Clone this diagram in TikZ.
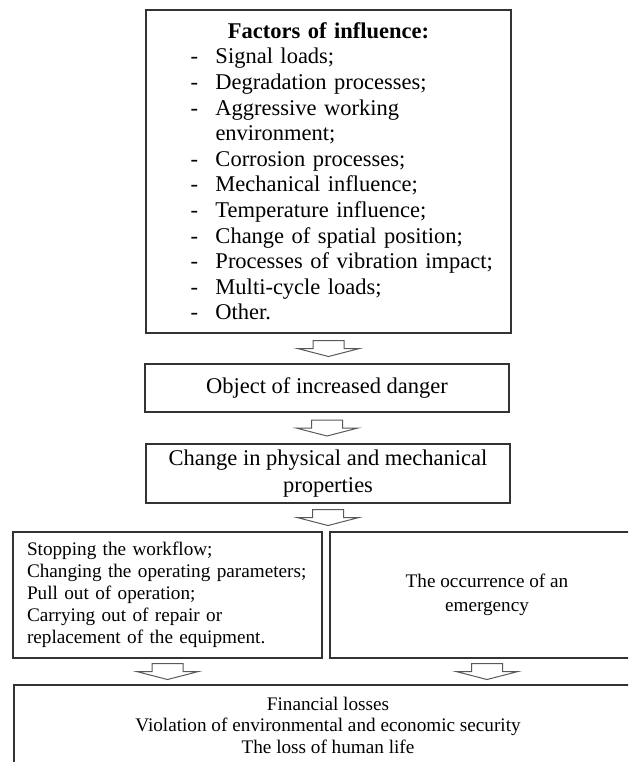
\documentclass[tikz,border=0pt]{standalone}
\usepackage{fontspec}
\setmainfont{Liberation Serif}
\usepackage{tikz}
\usetikzlibrary{calc}
\definecolor{boxline}{gray}{0.2}
\definecolor{arrowline}{gray}{0.35}
\newcommand{\bigfont}{\fontsize{11.25pt}{12.8pt}\selectfont}
\newcommand{\factor}[1]{\hspace*{16pt}\makebox[12.5pt][l]{-}#1}

\begin{document}
\begin{tikzpicture}[x=1pt,y=-1pt,
	box/.style={draw=boxline,line width=.75pt,inner sep=2pt},
	flowarrow/.style={draw=arrowline,line width=.5pt}]
	\path[use as bounding box] (0,0) rectangle (314,381);
	\clip (0,0) rectangle (314,381);
	\node[box,font=\bigfont,text width=170pt,minimum width=182.5pt,minimum height=161.6pt] (factors) at (164.25,85.7)
		{\centering\textbf{Factors of influence:}\par\raggedright
		\factor{Signal loads;}\\
		\factor{Degradation processes;}\\
		\factor{Aggressive working}\\
		\hspace*{28.5pt}environment;\\
		\factor{Corrosion processes;}\\
		\factor{Mechanical influence;}\\
		\factor{Temperature influence;}\\
		\factor{Change of spatial position;}\\
		\factor{Processes of vibration impact;}\\
		\factor{Multi-cycle loads;}\\
		\factor{Other.}};
	\node[box,font=\bigfont,minimum width=182pt,minimum height=24pt] (object) at (163.5,194) {Object of increased danger};
	\node[box,font=\fontsize{11.25pt}{13.5pt}\selectfont,align=center,minimum width=182pt,minimum height=29.5pt] (change) at (164,236.75)
		{Change in physical and mechanical\\properties};
	\node[box,font=\fontsize{9.6pt}{11pt}\selectfont,inner xsep=7pt,text width=140.5pt,align=left,minimum height=63pt] (measures) at (83.75,297.5)
		{Stopping the workflow;\\Changing the operating parameters;\\Pull out of operation;\\Carrying out of repair or\\replacement of the equipment.};
	\node[box,font=\fontsize{9.6pt}{12pt}\selectfont,align=center,minimum width=157pt,minimum height=63pt] (emerg) at (243.5,297.5)
		{The occurrence of an\\emergency};
	\node[box,font=\fontsize{9.6pt}{10.75pt}\selectfont,align=center,minimum width=314pt,minimum height=40pt] (losses) at (164,362.5)
		{Financial losses\\Violation of environmental and economic security\\The loss of human life};
	\foreach \a/\b in {factors/object,object/change,change/measures,measures/losses,emerg/losses}
		\draw[flowarrow] ($(\a.south)!0.5!(\a.south|-\b.north)$) ++(-7.75,-4) -- ++(15.5,0) -- ++(0,4) -- ++(7.75,0) -- ++(-15.5,4) -- ++(-15.5,-4) -- ++(7.75,0) -- cycle;
\end{tikzpicture}
\end{document}
